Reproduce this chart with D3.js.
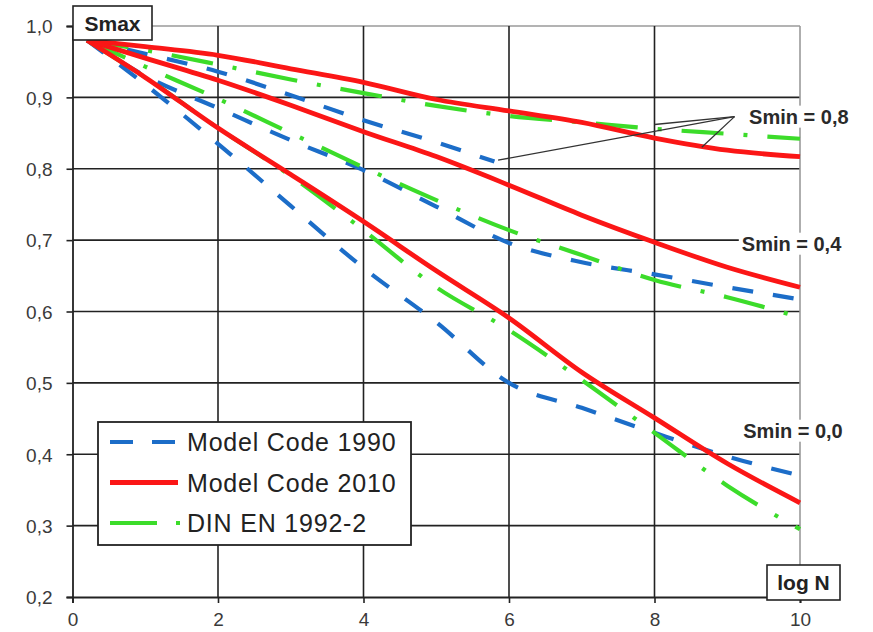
<!DOCTYPE html>
<html>
<head>
<meta charset="utf-8">
<script src="https://cdn.jsdelivr.net/npm/d3@7"></script>
<style>
  body { margin: 0; background: #fff; }
  svg text { font-family: "Liberation Sans", Arial, sans-serif; }
</style>
</head>
<body>
<div id="chart"></div>
<script>
// Data (log N on x, Smax on y).
const xFull = [0.2, 1, 2, 3, 4, 5, 6, 7, 8, 9, 10];
const xShort = [0.2, 1, 2, 3, 4, 5, 5.8];

const mc1990_08 = [0.98, 0.961, 0.936, 0.903, 0.868, 0.837, 0.81];
const mc1990_04 = [0.98, 0.93, 0.885, 0.84, 0.798, 0.747, 0.696, 0.669, 0.652, 0.634, 0.617];
const mc1990_00 = [0.98, 0.918, 0.835, 0.748, 0.661, 0.585, 0.5, 0.465, 0.43, 0.397, 0.37];

const mc2010_08 = [0.98, 0.971, 0.959, 0.94, 0.921, 0.897, 0.881, 0.865, 0.843, 0.826, 0.817];
const mc2010_04 = [0.98, 0.955, 0.924, 0.889, 0.852, 0.817, 0.777, 0.735, 0.697, 0.662, 0.634];
const mc2010_00 = [0.98, 0.928, 0.857, 0.792, 0.726, 0.657, 0.591, 0.515, 0.451, 0.387, 0.332];

const din_08 = [0.98, 0.966, 0.946, 0.925, 0.906, 0.888, 0.874, 0.865, 0.856, 0.849, 0.842];
const din_04 = [0.98, 0.943, 0.898, 0.85, 0.802, 0.756, 0.714, 0.679, 0.644, 0.62, 0.592];
const din_00 = [0.98, 0.928, 0.857, 0.79, 0.714, 0.634, 0.574, 0.504, 0.43, 0.356, 0.295];

const xTicks = [0, 2, 4, 6, 8, 10];
const yTicks = [0.2, 0.3, 0.4, 0.5, 0.6, 0.7, 0.8, 0.9, 1.0];
const legendNames = ["Model Code 1990", "Model Code 2010", "DIN EN 1992-2"];
const sminLabels = ["Smin = 0,8", "Smin = 0,4", "Smin = 0,0"];
// where the Smin labels sit (x = log N, y = Smax)
const sminLabelPos = [[9.3, 0.873], [9.2, 0.695], [9.22, 0.433]];
// leader lines for Smin = 0,8
const leaderFrom = [9.1, 0.873];
const leaderTo = [[5.85, 0.812], [8.0, 0.862], [8.65, 0.83]];

const width = 873, height = 632;
const svg = d3.select("#chart").append("svg")
  .attr("width", width).attr("height", height);

const x = d3.scaleLinear().domain([0, 10]).range([72.5, 800]);
const y = d3.scaleLinear().domain([0.2, 1.0]).range([597, 26]);

const comma = (v) => d3.format(".1f")(v).replace(".", ",");

// grid
svg.append("g").selectAll("line.h")
  .data(yTicks.filter((v) => v > 0.2))
  .enter().append("line")
  .attr("x1", x(0)).attr("x2", x(10))
  .attr("y1", (d) => y(d)).attr("y2", (d) => y(d))
  .attr("stroke", (d) => d >= 1 ? "#9a9a9a" : "#222")
  .attr("stroke-width", 1.6);

svg.append("g").selectAll("line.v")
  .data(xTicks.filter((v) => v > 0))
  .enter().append("line")
  .attr("x1", (d) => x(d)).attr("x2", (d) => x(d))
  .attr("y1", y(1.0)).attr("y2", y(0.2))
  .attr("stroke", (d) => d >= 10 ? "#9a9a9a" : "#222")
  .attr("stroke-width", 1.6);

// axes
const yAxis = svg.append("g")
  .attr("transform", `translate(${x(0)},0)`)
  .call(d3.axisLeft(y).tickValues(yTicks).tickFormat(comma).tickSize(6).tickPadding(14));
const xAxis = svg.append("g")
  .attr("transform", `translate(0,${y(0.2)})`)
  .call(d3.axisBottom(x).tickValues(xTicks).tickSize(6).tickPadding(10));
[yAxis, xAxis].forEach((a) => {
  a.select(".domain").attr("stroke", "#222").attr("stroke-width", 1.8);
  a.selectAll(".tick line").attr("stroke", "#222").attr("stroke-width", 1.6);
  a.selectAll(".tick text").attr("font-size", 19).attr("fill", "#3a3a3a")
    .style("font-family", "Liberation Sans, Arial, sans-serif");
});
yAxis.selectAll(".tick text").attr("dy", "0.36em");

// curves
const blue = "#1c6dc8", red = "#fb1616", green = "#3cdc2a";
const styles = {
  mc1990: {color: blue, width: 4.2, dash: "21,20"},
  mc2010: {color: red, width: 4.8, dash: null},
  din: {color: green, width: 4.2, dash: "42,20,4,20"}
};
const series = [
  {key: "mc1990", xs: xShort, ys: mc1990_08},
  {key: "mc1990", xs: xFull, ys: mc1990_04},
  {key: "mc1990", xs: xFull, ys: mc1990_00},
  {key: "din", xs: xFull, ys: din_08},
  {key: "din", xs: xFull, ys: din_04},
  {key: "din", xs: xFull, ys: din_00},
  {key: "mc2010", xs: xFull, ys: mc2010_08},
  {key: "mc2010", xs: xFull, ys: mc2010_04},
  {key: "mc2010", xs: xFull, ys: mc2010_00}
];
const line = d3.line()
  .x((d) => x(d[0])).y((d) => y(d[1]))
  .curve(d3.curveMonotoneX);

svg.append("g").selectAll("path")
  .data(series)
  .enter().append("path")
  .attr("d", (s) => line(s.xs.map((v, i) => [v, s.ys[i]])))
  .attr("fill", "none")
  .attr("stroke", (s) => styles[s.key].color)
  .attr("stroke-width", (s) => styles[s.key].width)
  .attr("stroke-dasharray", (s) => styles[s.key].dash)
  .attr("stroke-linecap", "butt");

// leader lines
svg.append("g").selectAll("line")
  .data(leaderTo)
  .enter().append("line")
  .attr("x1", x(leaderFrom[0])).attr("y1", y(leaderFrom[1]))
  .attr("x2", (d) => x(d[0])).attr("y2", (d) => y(d[1]))
  .attr("stroke", "#333").attr("stroke-width", 1.3);

// Smin labels with white backing
const lab = svg.append("g").selectAll("g")
  .data(sminLabels)
  .enter().append("g")
  .attr("transform", (d, i) => `translate(${x(sminLabelPos[i][0])},${y(sminLabelPos[i][1])})`);
lab.append("rect")
  .attr("x", -3).attr("y", -11).attr("width", 112).attr("height", 22)
  .attr("fill", "#fff");
lab.append("text")
  .attr("dy", "0.36em")
  .attr("font-size", 20).attr("font-weight", "bold").attr("fill", "#2a2a2a")
  .text((d) => d);

// axis title boxes
function titleBox(bx, by, bw, bh, label) {
  const g = svg.append("g");
  g.append("rect").attr("x", bx).attr("y", by).attr("width", bw).attr("height", bh)
    .attr("fill", "#fff").attr("stroke", "#222").attr("stroke-width", 1.6);
  g.append("text").attr("x", bx + bw / 2).attr("y", by + bh / 2).attr("dy", "0.36em")
    .attr("text-anchor", "middle").attr("font-size", 21).attr("font-weight", "bold")
    .attr("fill", "#222").text(label);
}
titleBox(73, 6, 79, 34, "Smax");
titleBox(767, 565, 73, 35, "log N");

// legend
const legend = svg.append("g");
legend.append("rect")
  .attr("x", 98).attr("y", 422).attr("width", 313).attr("height", 123)
  .attr("fill", "#fff").attr("stroke", "#222").attr("stroke-width", 1.8);
const legendKeys = ["mc1990", "mc2010", "din"];
const item = legend.selectAll("g.item")
  .data(legendNames)
  .enter().append("g")
  .attr("transform", (d, i) => `translate(0,${442 + i * 40.5})`);
item.append("line")
  .attr("x1", 110).attr("x2", (d, i) => i === 2 ? 182 : 178)
  .attr("stroke", (d, i) => styles[legendKeys[i]].color)
  .attr("stroke-width", (d, i) => styles[legendKeys[i]].width)
  .attr("stroke-dasharray", (d, i) => i === 0 ? "23,19" : (i === 2 ? "47,19,4,20" : null));
item.append("text")
  .attr("x", 187).attr("dy", "0.36em")
  .attr("font-size", 25).attr("letter-spacing", 0.8).attr("fill", "#222")
  .text((d) => d);
</script>
</body>
</html>
